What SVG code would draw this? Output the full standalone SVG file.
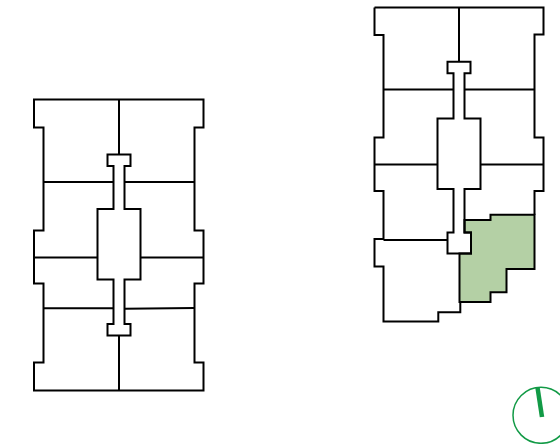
<svg xmlns="http://www.w3.org/2000/svg" width="560" height="444" viewBox="0 0 560 444">
<style>
.w{fill:none;stroke:#000;stroke-width:2;stroke-linejoin:miter}
.u{fill:#b4d0a5;stroke:#000;stroke-width:2}
.c{fill:none;stroke:#129a46;stroke-width:1.500}
.n{fill:none;stroke:#129a46;stroke-width:4.500}
</style>
<rect width="560" height="444" fill="#fff"/>
<g id="plan-left">
<path class="w" d="M34 99.500H203.500V127.500H194.500V230.500H203.500V283.500H194.500V362.500H203.500V390.500H34V362.500H43.500V283.500H34V230.500H43.500V127.500H34Z"/>
<path class="w" d="M97.500 209H113.500V166H107.500V154.500H130.500V166H124.500V209H140.500V279.500H124.500V324H130.500V335.500H107.500V324H113.500V279.500H97.500Z"/>
<path class="w" d="M119 99.500V154.500M119 335.500V390.500M43.500 182H113.500M124.500 182H194.500M34 257.500H97.500M140.500 257.500H203.500M43.500 308.300H113.500M124.500 308.800L194.500 308"/>
</g>
<g id="plan-right">
<path class="u" d="M459.500 253.500H471V232.500H464.500V220H490.500V214.700H534.500V269H506.500V292.300H490.500V302H459.500Z"/>
<path class="w" d="M374.500 7.500H543.500V34.500H534.500V137.500H543.500V191H534.500V214.700M374.500 7.500V35H383.500V137.500H374.500V191H383.500V239H374.500V266.500H383.500V321.500H438.300V312.300H460.300V302"/>
<path class="w" d="M437.500 118.500H453.500V73.300H447.500V61.700H470.500V73.300H464.500V118.500H480.500V189H464.500V232.500H471V253.500H447.500V232.500H453.500V189H437.500Z"/>
<path class="w" d="M459 7.500V61.700M383.500 89.500H453.500M464.500 89.500H534.500M374.500 164.500H437.500M480.500 164.500H543.500M383.500 240H447.500"/>
</g>
<g id="compass">
<circle class="c" cx="541" cy="415.300" r="28"/>
<path class="n" d="M537.500 387.500L542 417"/>
</g>
</svg>
